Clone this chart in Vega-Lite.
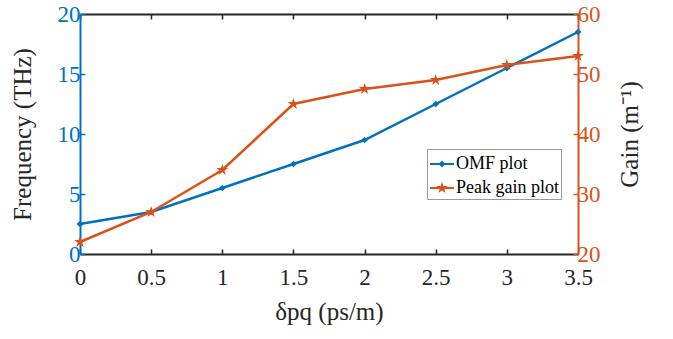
{
  "$schema": "https://vega.github.io/schema/vega-lite/v6.json",
  "width": 498,
  "height": 240,
  "autosize": {"type": "none"},
  "padding": {"left": 80, "top": 14, "right": 95, "bottom": 85},
  "background": "white",
  "view": {"stroke": null},
  "config": {
    "font": "Liberation Serif",
    "axis": {
      "labelFont": "Liberation Serif",
      "titleFont": "Liberation Serif",
      "grid": false,
      "labelFontSize": 23,
      "titleFontSize": 25,
      "titleFontWeight": "normal",
      "tickSize": -5,
      "domainWidth": 2,
      "tickWidth": 1.5,
      "labelFlush": false
    }
  },
  "data": {
    "values": [
      {"delta": 0, "value": 2.5, "series": "OMF plot"},
      {"delta": 0.5, "value": 3.5, "series": "OMF plot"},
      {"delta": 1, "value": 5.5, "series": "OMF plot"},
      {"delta": 1.5, "value": 7.5, "series": "OMF plot"},
      {"delta": 2, "value": 9.5, "series": "OMF plot"},
      {"delta": 2.5, "value": 12.5, "series": "OMF plot"},
      {"delta": 3, "value": 15.5, "series": "OMF plot"},
      {"delta": 3.5, "value": 18.5, "series": "OMF plot"},
      {"delta": 0, "value": 22, "series": "Peak gain plot"},
      {"delta": 0.5, "value": 27, "series": "Peak gain plot"},
      {"delta": 1, "value": 34, "series": "Peak gain plot"},
      {"delta": 1.5, "value": 45, "series": "Peak gain plot"},
      {"delta": 2, "value": 47.5, "series": "Peak gain plot"},
      {"delta": 2.5, "value": 49, "series": "Peak gain plot"},
      {"delta": 3, "value": 51.5, "series": "Peak gain plot"},
      {"delta": 3.5, "value": 53, "series": "Peak gain plot"}
    ]
  },
  "layer": [
    {
      "transform": [{"filter": "datum.series === 'OMF plot'"}],
      "encoding": {
        "x": {
          "field": "delta", "type": "quantitative",
          "scale": {"domain": [0, 3.5], "nice": false},
          "axis": {
            "orient": "bottom",
            "values": [0, 0.5, 1, 1.5, 2, 2.5, 3, 3.5],
            "format": "~g",
            "labelFlush": false,
            "title": "δpq (ps/m)",
            "domainColor": "#262626", "tickColor": "#262626",
            "labelColor": "#262626", "titleColor": "#262626",
            "labelPadding": 17, "titlePadding": 10
          }
        },
        "y": {
          "field": "value", "type": "quantitative",
          "scale": {"domain": [0, 20], "nice": false},
          "axis": {
            "orient": "left",
            "values": [0, 5, 10, 15, 20],
            "title": "Frequency (THz)",
            "domainColor": "#0072BD", "tickColor": "#0072BD",
            "labelColor": "#0072BD", "titleColor": "#262626",
            "labelPadding": 5, "titlePadding": 22
          }
        }
      },
      "layer": [
        {"mark": {"type": "line", "strokeWidth": 2.5, "color": "#0072BD"}},
        {"mark": {"type": "point", "shape": "diamond", "filled": true, "size": 45, "opacity": 1, "color": "#0072BD"}}
      ]
    },
    {
      "transform": [{"filter": "datum.series === 'Peak gain plot'"}],
      "encoding": {
        "x": {
          "field": "delta", "type": "quantitative",
          "scale": {"domain": [0, 3.5], "nice": false},
          "axis": {
            "orient": "top",
            "values": [0, 0.5, 1, 1.5, 2, 2.5, 3, 3.5],
            "labels": false,
            "title": null,
            "domainColor": "#262626", "tickColor": "#262626"
          }
        },
        "y": {
          "field": "value", "type": "quantitative",
          "scale": {"domain": [20, 60], "nice": false, "zero": false},
          "axis": {
            "orient": "right",
            "values": [20, 30, 40, 50, 60],
            "title": "Gain (m⁻¹)",
            "titleAngle": -90,
            "domainColor": "#D95319", "tickColor": "#D95319",
            "labelColor": "#D95319", "titleColor": "#262626",
            "labelPadding": 4, "titlePadding": 42
          }
        }
      },
      "layer": [
        {"mark": {"type": "line", "strokeWidth": 2.5, "color": "#D95319"}},
        {"mark": {"type": "point", "shape": "M0,-1L0.2245,-0.309L0.9511,-0.309L0.3633,0.118L0.5878,0.809L0,0.382L-0.5878,0.809L-0.3633,0.118L-0.9511,-0.309L-0.2245,-0.309Z", "filled": true, "size": 150, "opacity": 1, "color": "#D95319"}},
        {
          "transform": [{"filter": {"field": "series", "equal": "none"}}],
          "mark": {"type": "point", "filled": true, "opacity": 1},
          "encoding": {
            "fill": {
              "field": "series", "type": "nominal",
              "scale": {"domain": ["OMF plot", "Peak gain plot"], "range": ["#0072BD", "#D95319"]},
              "legend": {"title": null}
            },
            "stroke": {
              "field": "series", "type": "nominal",
              "scale": {"domain": ["OMF plot", "Peak gain plot"], "range": ["#0072BD", "#D95319"]},
              "legend": {"title": null}
            },
            "shape": {
              "field": "series", "type": "nominal",
              "scale": {
                "domain": ["OMF plot", "Peak gain plot"],
                "range": [
                  "M-1,0H1M0,-0.17L0.17,0L0,0.17L-0.17,0Z",
                  "M-1,0H1M0,-0.25L0.0561,-0.0773L0.2378,-0.0773L0.0908,0.0295L0.1470,0.2023L0,0.0955L-0.1470,0.2023L-0.0908,0.0295L-0.2378,-0.0773L-0.0561,-0.0773Z"
                ]
              },
              "legend": {
                "title": null,
                "orient": "none",
                "legendX": 347,
                "legendY": 135,
                "labelFont": "Liberation Serif",
                "labelFontSize": 18,
                "labelColor": "#000000",
                "symbolSize": 576,
                "symbolStrokeWidth": 2,
                "padding": 2,
                "rowPadding": 2,
                "labelOffset": 1,
                "strokeColor": "#999999",
                "fillColor": "white"
              }
            }
          }
        }
      ]
    }
  ],
  "resolve": {
    "scale": {"y": "independent"},
    "axis": {"x": "independent", "y": "independent"}
  }
}
